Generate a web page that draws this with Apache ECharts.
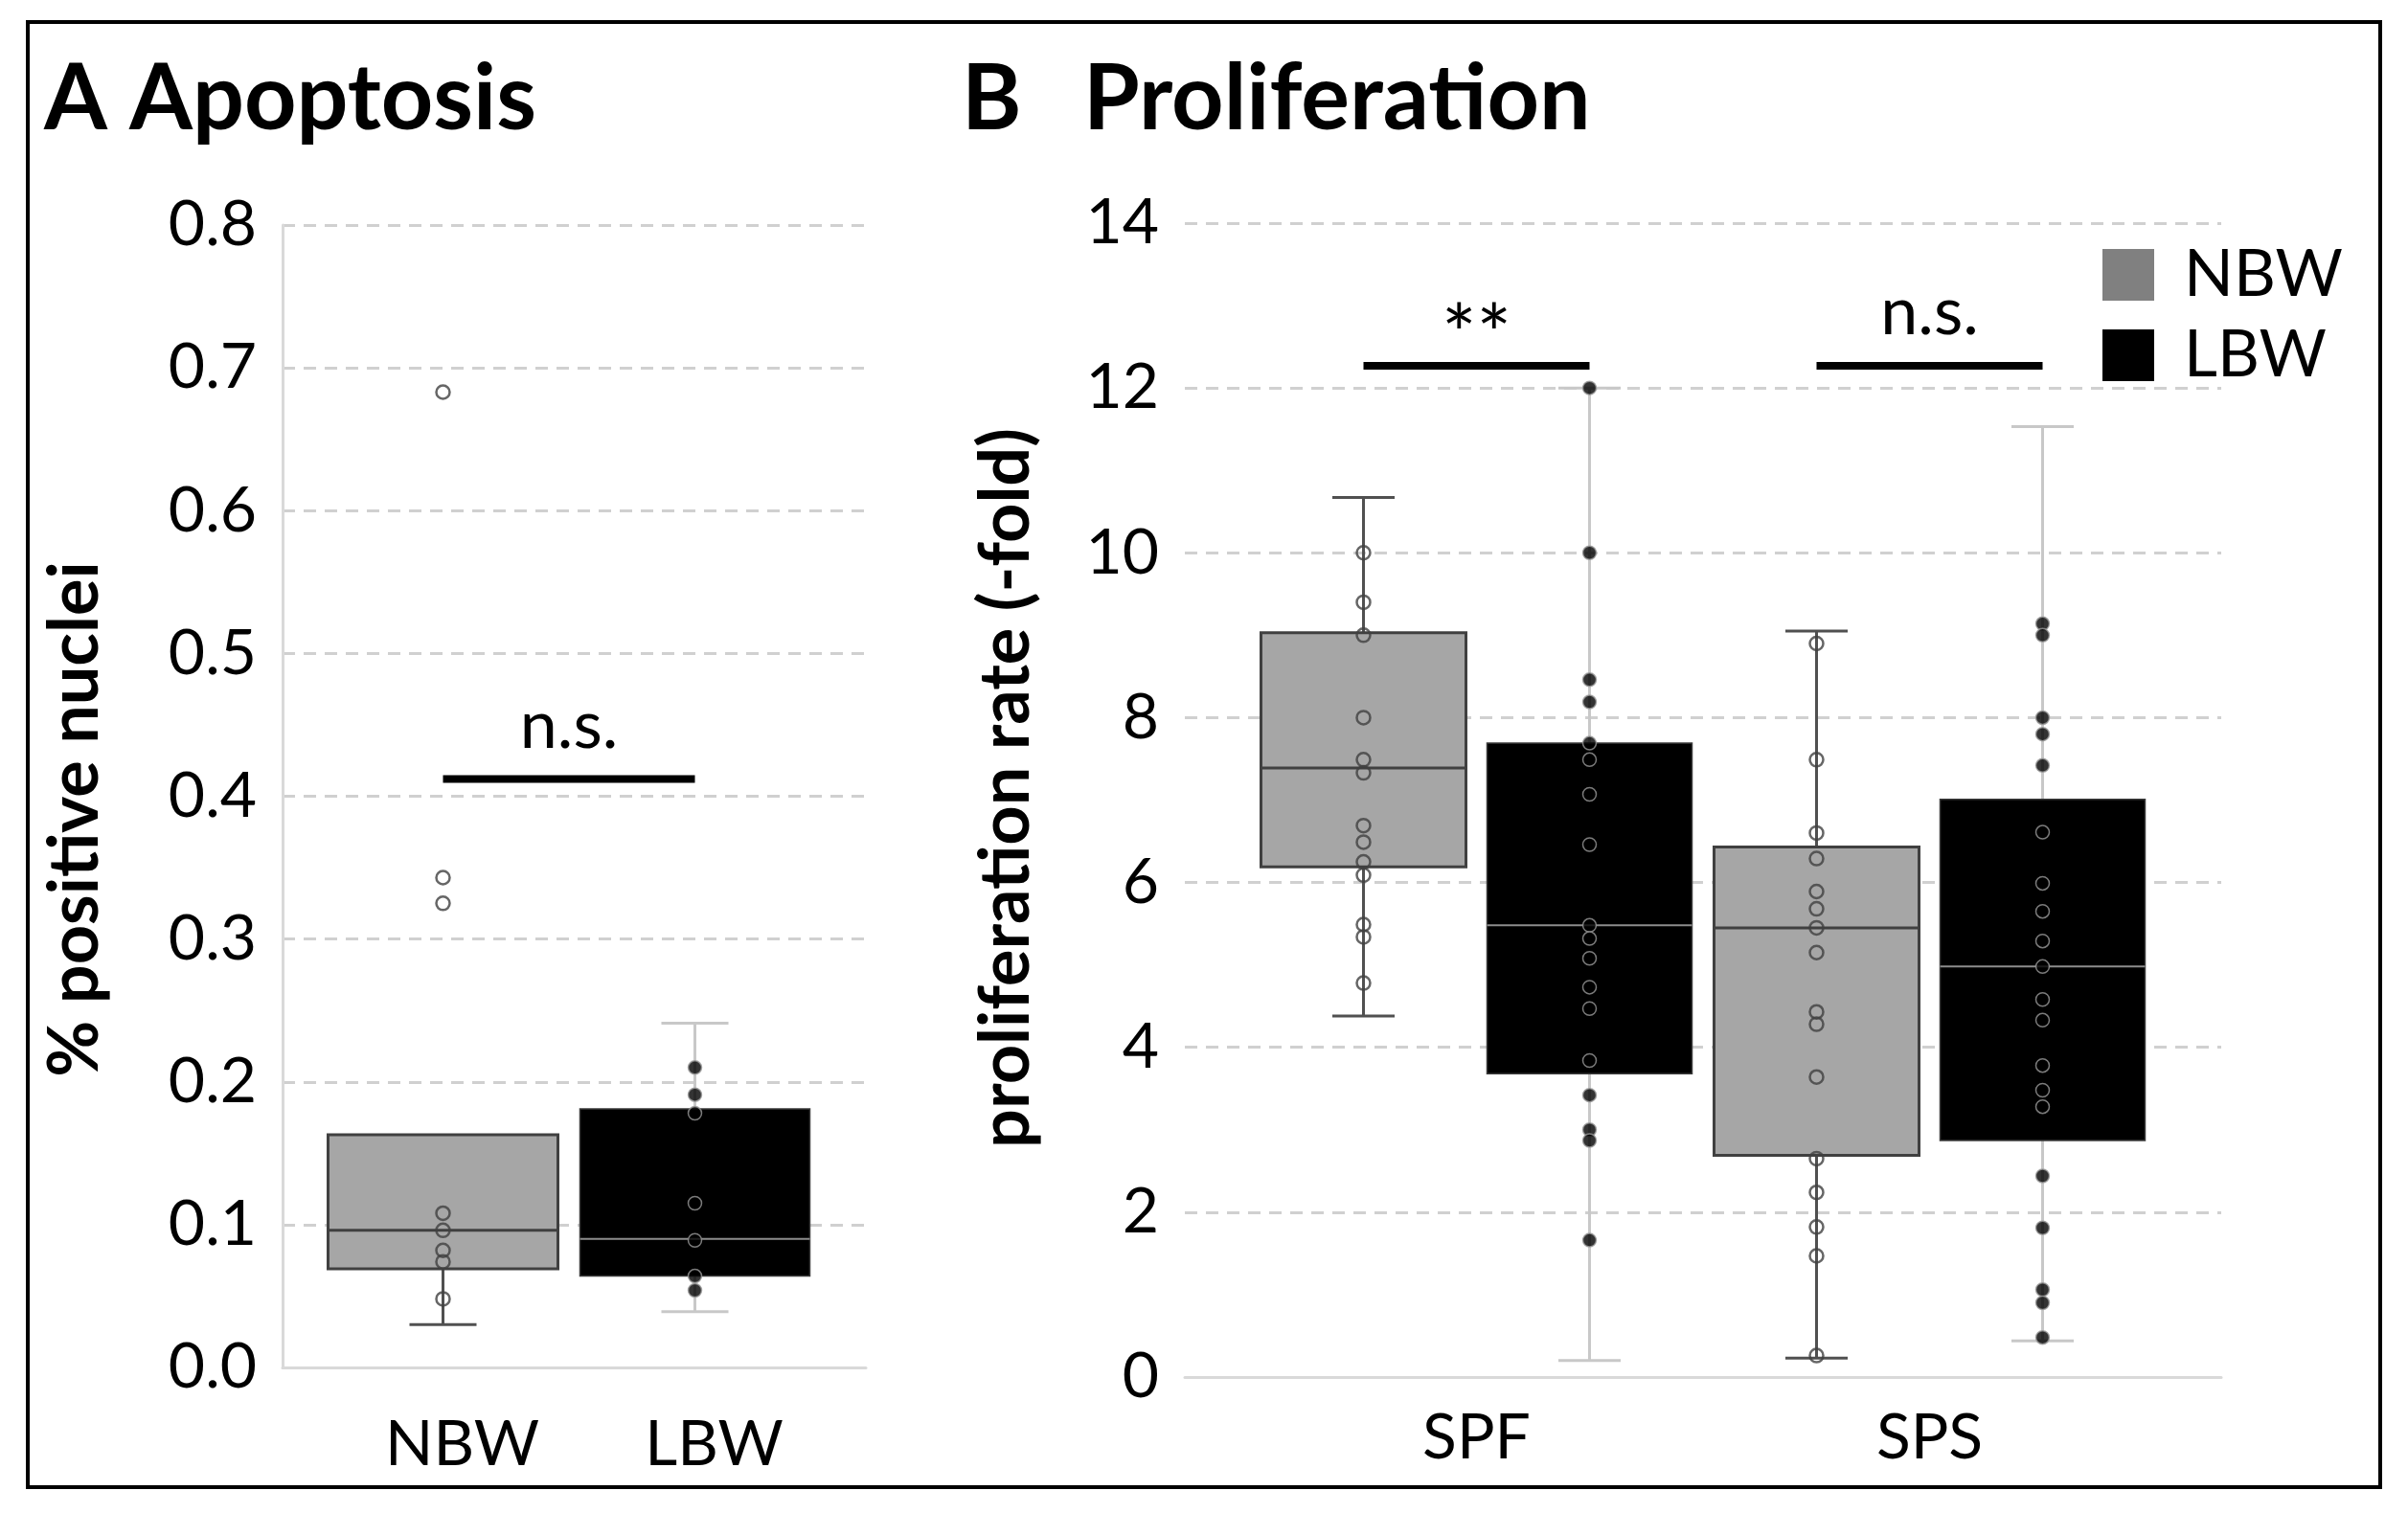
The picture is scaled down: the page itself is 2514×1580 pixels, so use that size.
<!DOCTYPE html>
<html>
<head>
<meta charset="utf-8">
<script src="https://cdn.jsdelivr.net/npm/echarts@6/dist/echarts.min.js"></script>
<style>
html,body{margin:0;padding:0;background:#fff;}
#chart{width:2514px;height:1580px;}
</style>
</head>
<body>
<div id="chart"></div>
<script>
// ---------------- DATA ----------------
// Panel A: Apoptosis (% positive nuclei)
const apopCategories = ['NBW', 'LBW'];
const apopYTicks = [0.0, 0.1, 0.2, 0.3, 0.4, 0.5, 0.6, 0.7, 0.8];
// [lower whisker, Q1, median, Q3, upper whisker]
const apopNBWBox = [0.030, 0.069, 0.096, 0.163, 0.163];
const apopLBWBox = [0.039, 0.064, 0.090, 0.181, 0.241];
const apopNBWPoints = [0.683, 0.343, 0.325, 0.108, 0.096, 0.082, 0.074, 0.048];
const apopLBWPoints = [0.210, 0.191, 0.178, 0.115, 0.089, 0.064, 0.054];
const apopSig = [0.412];
const apopSigLabels = ['n.s.'];

// Panel B: Proliferation rate (-fold)
const prolifCategories = ['SPF', 'SPS'];
const prolifYTicks = [0, 2, 4, 6, 8, 10, 12, 14];
const prolifNBWBox = [
  [4.38, 6.19, 7.39, 9.03, 10.67],
  [0.23, 2.69, 5.45, 6.43, 9.05]
];
const prolifLBWBox = [
  [0.20, 3.68, 5.48, 7.69, 12.00],
  [0.44, 2.87, 4.98, 7.01, 11.53]
];
const prolifNBWPoints = [
  [10.0, 9.40, 9.00, 8.00, 7.49, 7.33, 6.69, 6.49, 6.25, 6.09, 5.49, 5.34, 4.78],
  [8.90, 7.49, 6.60, 6.29, 5.89, 5.68, 5.45, 5.15, 4.43, 4.28, 3.64, 2.65, 2.24, 1.82, 1.47, 0.26]
];
const prolifLBWPoints = [
  [12.0, 10.0, 8.46, 8.19, 7.69, 7.49, 7.07, 6.46, 5.48, 5.32, 5.08, 4.73, 4.47, 3.84, 3.42, 3.00, 2.87, 1.66],
  [9.14, 9.00, 8.00, 7.80, 7.42, 6.61, 5.99, 5.65, 5.29, 4.98, 4.58, 4.33, 3.78, 3.48, 3.28, 2.44, 1.81, 1.06, 0.90, 0.48]
];
const prolifSig = [12.27, 12.27];
const prolifSigLabels = ['**', 'n.s.'];

const legendNames = ['NBW', 'LBW'];

// ---------------- STYLES ----------------
const FONT = 'Lato';
const NBW_STYLE = { fill: '#a6a6a6', stroke: '#404040', strokeWidth: 3, whisker: '#505050', whiskerWidth: 3, median: '#404040', medianWidth: 3 };
const LBW_STYLE = { fill: '#000000', stroke: '#3a3a3a', strokeWidth: 1.5, whisker: '#c8c8c8', whiskerWidth: 3, median: '#8c8c8c', medianWidth: 2 };
const SIG_TEXT = { '**': { fontSize: 86, gap: 30 }, 'default': { fontSize: 70, gap: 55 } };

function boxRenderer(st, offset, width, cap) {
  return function (params, api) {
    const c = api.value(0);
    const v = [1, 2, 3, 4, 5].map(i => api.value(i));
    const ys = v.map(val => api.coord([c, val])[1]);
    const cx = api.coord([c, v[0]])[0] + offset;
    const [yMin, yQ1, yMed, yQ3, yMax] = ys;
    const hw = width / 2, cw = cap / 2;
    const wl = { stroke: st.whisker, lineWidth: st.whiskerWidth };
    const children = [];
    if (v[0] < v[1]) {
      children.push({ type: 'line', shape: { x1: cx, y1: yQ1, x2: cx, y2: yMin }, style: wl });
      children.push({ type: 'line', shape: { x1: cx - cw, y1: yMin, x2: cx + cw, y2: yMin }, style: wl });
    }
    if (v[4] > v[3]) {
      children.push({ type: 'line', shape: { x1: cx, y1: yQ3, x2: cx, y2: yMax }, style: wl });
      children.push({ type: 'line', shape: { x1: cx - cw, y1: yMax, x2: cx + cw, y2: yMax }, style: wl });
    }
    children.push({ type: 'rect', shape: { x: cx - hw, y: yQ3, width: width, height: yQ1 - yQ3 },
      style: { fill: st.fill, stroke: st.stroke, lineWidth: st.strokeWidth } });
    children.push({ type: 'line', shape: { x1: cx - hw, y1: yMed, x2: cx + hw, y2: yMed },
      style: { stroke: st.median, lineWidth: st.medianWidth } });
    return { type: 'group', children: children };
  };
}

function sigRenderer(labels, dxFrom, dxTo) {
  return function (params, api) {
    const y = api.value(2);
    const p1 = api.coord([api.value(0), y]);
    const p2 = api.coord([api.value(1), y]);
    const x1 = p1[0] + dxFrom, x2 = p2[0] + dxTo;
    const label = labels[params.dataIndex];
    const ts = SIG_TEXT[label] || SIG_TEXT['default'];
    return {
      type: 'group',
      children: [
        { type: 'line', shape: { x1: x1, y1: p1[1], x2: x2, y2: p1[1] }, style: { stroke: '#000', lineWidth: 8 } },
        { type: 'text', x: (x1 + x2) / 2, y: p1[1] - ts.gap,
          style: { text: label, fill: '#000', fontFamily: FONT, fontSize: ts.fontSize, align: 'center', verticalAlign: 'middle' } }
      ]
    };
  };
}

const NBW_POINT = { color: 'rgba(0,0,0,0)', borderColor: '#404040', borderWidth: 2.5 };
const LBW_POINT = { color: '#000000', borderColor: '#9a9a9a', borderWidth: 1.5 };

const B_OFF = 118;

const gridLineStyle = { type: [13, 9], color: '#d0d0d0', width: 3 };

const option = {
  animation: false,
  backgroundColor: '#ffffff',
  title: [
    { text: 'A Apoptosis', left: 46, top: 57, padding: 0,
      textStyle: { fontFamily: FONT, fontWeight: 'bold', fontSize: 95, lineHeight: 95, color: '#000' } },
    { text: 'B', left: 1004, top: 57, padding: 0,
      textStyle: { fontFamily: FONT, fontWeight: 'bold', fontSize: 95, lineHeight: 95, color: '#000' } },
    { text: 'Proliferation', left: 1131, top: 57, padding: 0,
      textStyle: { fontFamily: FONT, fontWeight: 'bold', fontSize: 95, lineHeight: 95, color: '#000' } }
  ],
  legend: {
    data: [
      { name: legendNames[0], itemStyle: { color: '#808080' } },
      { name: legendNames[1], itemStyle: { color: '#000000' } }
    ],
    orient: 'vertical', left: 2195, top: 253, padding: 0,
    icon: 'rect', itemWidth: 54, itemHeight: 54, itemGap: 16,
    selectedMode: false,
    textStyle: { fontFamily: FONT, fontSize: 68, color: '#000', lineHeight: 54, padding: [0, 0, 0, 26] }
  },
  grid: [
    { left: 295, top: 235, width: 609, height: 1193, outerBoundsMode: 'none' },
    { left: 331, top: 235, width: 526, height: 1193, outerBoundsMode: 'none' },
    { left: 1237, top: 233, width: 1082, height: 1205, outerBoundsMode: 'none' },
    { left: 1305, top: 233, width: 946, height: 1205, outerBoundsMode: 'none' }
  ],
  xAxis: [
    { gridIndex: 0, type: 'category', data: apopCategories,
      axisLine: { show: true, lineStyle: { color: '#d9d9d9', width: 3 } },
      axisTick: { show: false }, axisLabel: { show: false }, splitLine: { show: false } },
    { gridIndex: 1, type: 'category', data: apopCategories,
      axisLine: { show: false }, axisTick: { show: false }, splitLine: { show: false },
      axisLabel: { fontFamily: FONT, fontSize: 66, lineHeight: 66, color: '#000', margin: 48, padding: [0, 0, 0, 40] } },
    { gridIndex: 2, type: 'category', data: prolifCategories,
      axisLine: { show: true, lineStyle: { color: '#d9d9d9', width: 3 } },
      axisTick: { show: false }, axisLabel: { show: false }, splitLine: { show: false } },
    { gridIndex: 3, type: 'category', data: prolifCategories,
      axisLine: { show: false }, axisTick: { show: false }, splitLine: { show: false },
      axisLabel: { fontFamily: FONT, fontSize: 66, lineHeight: 66, color: '#000', margin: 31 } }
  ],
  yAxis: [
    { gridIndex: 0, type: 'value',
      min: apopYTicks[0], max: apopYTicks[apopYTicks.length - 1], interval: apopYTicks[1] - apopYTicks[0],
      name: '% positive nuclei', nameLocation: 'middle', nameRotate: 90, nameGap: 180,
      nameTextStyle: { fontFamily: FONT, fontWeight: 'bold', fontSize: 72, lineHeight: 72, color: '#000', padding: [0, 48, 0, 0] },
      axisLine: { show: true, lineStyle: { color: '#d9d9d9', width: 3 } },
      axisTick: { show: false },
      axisLabel: { fontFamily: FONT, fontSize: 66, color: '#000', margin: 27, formatter: v => v.toFixed(1) },
      splitLine: { show: true, showMinLine: false, lineStyle: gridLineStyle } },
    { gridIndex: 1, type: 'value',
      min: apopYTicks[0], max: apopYTicks[apopYTicks.length - 1], interval: apopYTicks[1] - apopYTicks[0],
      show: false, splitLine: { show: false } },
    { gridIndex: 2, type: 'value',
      min: prolifYTicks[0], max: prolifYTicks[prolifYTicks.length - 1], interval: prolifYTicks[1] - prolifYTicks[0],
      name: 'proliferation rate (-fold)', nameLocation: 'middle', nameRotate: 90, nameGap: 150,
      nameTextStyle: { fontFamily: FONT, fontWeight: 'bold', fontSize: 72, lineHeight: 72, color: '#000', padding: [0, 0, 0, 25] },
      axisLine: { show: false }, axisTick: { show: false },
      axisLabel: { fontFamily: FONT, fontSize: 66, color: '#000', margin: 27 },
      splitLine: { show: true, showMinLine: false, lineStyle: gridLineStyle } },
    { gridIndex: 3, type: 'value',
      min: prolifYTicks[0], max: prolifYTicks[prolifYTicks.length - 1], interval: prolifYTicks[1] - prolifYTicks[0],
      show: false, splitLine: { show: false } }
  ],
  series: [
    // Panel A boxes
    { name: legendNames[0], type: 'custom', xAxisIndex: 1, yAxisIndex: 1, z: 2,
      renderItem: boxRenderer(NBW_STYLE, 0, 240, 70),
      encode: { x: 0, y: [1, 2, 3, 4, 5] },
      data: [[0].concat(apopNBWBox)] },
    { name: legendNames[1], type: 'custom', xAxisIndex: 1, yAxisIndex: 1, z: 2,
      renderItem: boxRenderer(LBW_STYLE, 0, 240, 70),
      encode: { x: 0, y: [1, 2, 3, 4, 5] },
      data: [[1].concat(apopLBWBox)] },
    // Panel A points
    { name: legendNames[0], type: 'scatter', xAxisIndex: 1, yAxisIndex: 1, z: 4,
      symbol: 'circle', symbolSize: 14, itemStyle: NBW_POINT,
      data: apopNBWPoints.map(v => [0, v]) },
    { name: legendNames[1], type: 'scatter', xAxisIndex: 1, yAxisIndex: 1, z: 4,
      symbol: 'circle', symbolSize: 14, itemStyle: LBW_POINT,
      data: apopLBWPoints.map(v => [1, v]) },
    // Panel A significance
    { type: 'custom', xAxisIndex: 1, yAxisIndex: 1, z: 3,
      renderItem: sigRenderer(apopSigLabels, 0, 0),
      data: apopSig.map(y => [0, 1, y]) },
    // Panel B boxes
    { name: legendNames[0], type: 'custom', xAxisIndex: 3, yAxisIndex: 3, z: 2,
      renderItem: boxRenderer(NBW_STYLE, -B_OFF, 214, 65),
      encode: { x: 0, y: [1, 2, 3, 4, 5] },
      data: prolifNBWBox.map((b, i) => [i].concat(b)) },
    { name: legendNames[1], type: 'custom', xAxisIndex: 3, yAxisIndex: 3, z: 2,
      renderItem: boxRenderer(LBW_STYLE, B_OFF, 214, 65),
      encode: { x: 0, y: [1, 2, 3, 4, 5] },
      data: prolifLBWBox.map((b, i) => [i].concat(b)) },
    // Panel B points
    { name: legendNames[0], type: 'scatter', xAxisIndex: 3, yAxisIndex: 3, z: 4,
      symbol: 'circle', symbolSize: 14, symbolOffset: [-B_OFF, 0], itemStyle: NBW_POINT,
      data: prolifNBWPoints.flatMap((arr, i) => arr.map(v => [i, v])) },
    { name: legendNames[1], type: 'scatter', xAxisIndex: 3, yAxisIndex: 3, z: 4,
      symbol: 'circle', symbolSize: 14, symbolOffset: [B_OFF, 0], itemStyle: LBW_POINT,
      data: prolifLBWPoints.flatMap((arr, i) => arr.map(v => [i, v])) },
    // Panel B significance
    { type: 'custom', xAxisIndex: 3, yAxisIndex: 3, z: 3,
      renderItem: sigRenderer(prolifSigLabels, -B_OFF, B_OFF),
      data: prolifSig.map((y, i) => [i, i, y]) }
  ],
  graphic: [
    { type: 'rect', shape: { x: 29, y: 23, width: 2456, height: 1530 },
      style: { fill: 'none', stroke: '#000', lineWidth: 4 }, z: 10 }
  ]
};

const chart = echarts.init(document.getElementById('chart'));
chart.setOption(option);
</script>
</body>
</html>
